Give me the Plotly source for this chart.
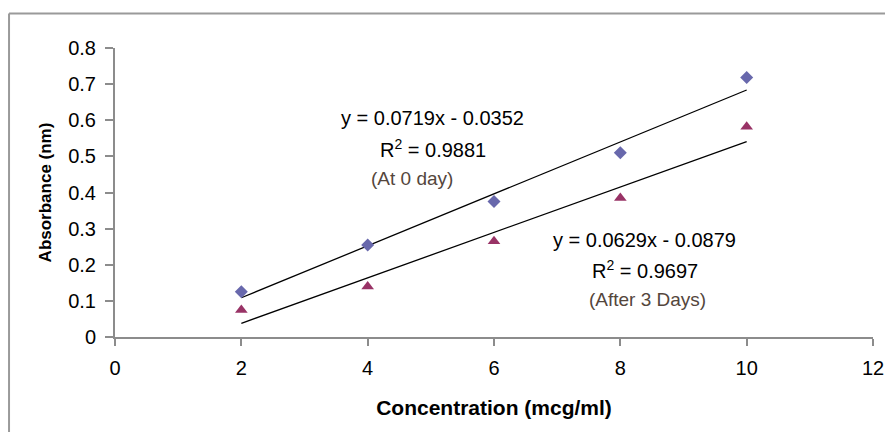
import plotly.graph_objects as go

# Data
concentration = [2, 4, 6, 8, 10]
absorbance_day0 = [0.125, 0.255, 0.375, 0.51, 0.718]
absorbance_day3 = [0.075, 0.14, 0.265, 0.385, 0.582]

# Trendline coefficients (as printed on the chart)
slope_day0, intercept_day0 = 0.0719, -0.0352
slope_day3, intercept_day3 = 0.0629, -0.0879

eq_day0 = "y = 0.0719x - 0.0352"
r2_day0 = "R<sup>2</sup> = 0.9881"
lbl_day0 = "(At 0 day)"
eq_day3 = "y = 0.0629x - 0.0879"
r2_day3 = "R<sup>2</sup> = 0.9697"
lbl_day3 = "(After 3 Days)"

x_ticks = [0, 2, 4, 6, 8, 10, 12]
y_ticks = [0, 0.1, 0.2, 0.3, 0.4, 0.5, 0.6, 0.7, 0.8]
y_tick_text = ["0", "0.1", "0.2", "0.3", "0.4", "0.5", "0.6", "0.7", "0.8"]

FONT = "Arial, Liberation Sans, sans-serif"

fig = go.Figure()

xs = [min(concentration), max(concentration)]
fig.add_trace(go.Scatter(
    x=xs, y=[slope_day0 * v + intercept_day0 for v in xs],
    mode="lines", line=dict(color="black", width=1.3), showlegend=False, hoverinfo="skip"))
fig.add_trace(go.Scatter(
    x=xs, y=[slope_day3 * v + intercept_day3 for v in xs],
    mode="lines", line=dict(color="black", width=1.3), showlegend=False, hoverinfo="skip"))

fig.add_trace(go.Scatter(
    x=concentration, y=absorbance_day0, mode="markers", name="At 0 day",
    marker=dict(symbol="diamond", size=10, color="#6868AC"), showlegend=False))
fig.add_trace(go.Scatter(
    x=concentration, y=absorbance_day3, mode="markers", name="After 3 Days",
    marker=dict(symbol="triangle-up", size=11, color="#993366"), showlegend=False))

ann_font = dict(family=FONT, size=20, color="black")
lbl_font = dict(family=FONT, size=19, color="#54463c")
annotations = [
    dict(x=0.4195, y=0.758, text=eq_day0, font=ann_font),
    dict(x=0.4195, y=0.653, text=r2_day0, font=ann_font),
    dict(x=0.392, y=0.549, text=lbl_day0, font=lbl_font),
    dict(x=0.699, y=0.336, text=eq_day3, font=ann_font),
    dict(x=0.699, y=0.234, text=r2_day3, font=ann_font),
    dict(x=0.703, y=0.131, text=lbl_day3, font=lbl_font),
]
for a in annotations:
    a.update(xref="paper", yref="paper", showarrow=False, xanchor="center", yanchor="middle")

axis_color = "#8c8c8c"
fig.update_layout(
    width=885, height=424,
    margin=dict(l=107, r=20, t=40, b=95, autoexpand=False),
    paper_bgcolor="white", plot_bgcolor="white",
    font=dict(family=FONT, size=18, color="black"),
    annotations=annotations,
    xaxis=dict(
        range=[0, 12], tickvals=x_ticks, ticktext=[str(v) for v in x_ticks],
        showgrid=False, zeroline=False, showline=True, linecolor=axis_color, linewidth=2,
        ticks="outside", ticklen=7, tickcolor=axis_color, tickwidth=2, ticklabelstandoff=5,
        tickfont=dict(family=FONT, size=20, color="black"),
        title=dict(text="<b>Concentration (mcg/ml)</b>", font=dict(family=FONT, size=21, color="black"), standoff=22),
    ),
    yaxis=dict(
        range=[0, 0.8], tickvals=y_ticks, ticktext=y_tick_text,
        showgrid=False, zeroline=False, showline=True, linecolor=axis_color, linewidth=2,
        ticks="outside", ticklen=8, tickcolor=axis_color, tickwidth=2, ticklabelstandoff=5,
        tickfont=dict(family=FONT, size=20, color="black"),
        title=dict(text="<b>Absorbance (nm)</b>", font=dict(family=FONT, size=17, color="black"), standoff=12),
    ),
    shapes=[
        dict(type="line", xref="paper", yref="paper", x0=-0.1398, x1=1.1, y0=1.1198, y1=1.1198,
             line=dict(color="#9a9a9a", width=2)),
        dict(type="line", xref="paper", yref="paper", x0=-0.1398, x1=-0.1398, y0=1.1198, y1=-0.4,
             line=dict(color="#9a9a9a", width=2)),
    ],
)

fig.write_html("out.html")
